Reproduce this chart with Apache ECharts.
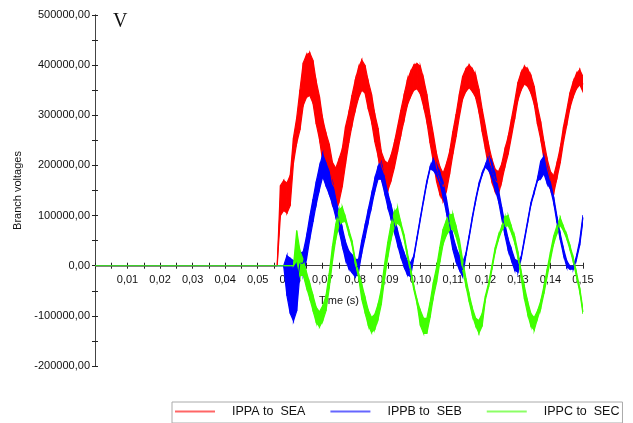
<!DOCTYPE html>
<html><head><meta charset="utf-8">
<script src="https://cdn.jsdelivr.net/npm/echarts@6/dist/echarts.min.js"></script>
<style>html,body{margin:0;padding:0;background:#fff}#c{width:633px;height:423px}</style>
</head><body><div id="c"></div>
<script>
// time in milliseconds
const timeMs = [0,56,57,58,59,60,61,62,63,64,65,66,67,68,69,70,71,72,73,74,75,76,77,78,79,80,81,82,83,84,85,86,87,88,89,90,91,92,93,94,95,96,97,98,99,100,101,102,103,104,105,106,107,108,109,110,111,112,113,114,115,116,117,118,119,120,121,122,123,124,125,126,127,128,129,130,131,132,133,134,135,136,137,138,139,140,141,142,143,144,145,146,147,148,149,150];
// centre of each trace (kV) and thickness of its ripple band (kV)
const redCenter = [0,0,130,140,135,150,230,270,311,362,378,382,367,325,295,250,222,200,163,152,170,195,240,275,310,340,365,380,372,340,315,275,247,200,182,177,195,220,252,285,315,345,362,375,378,370,345,315,272,235,195,170,157,175,205,245,280,320,355,370,378,370,358,330,290,255,218,190,170,165,185,215,240,275,310,348,368,380,375,362,340,300,270,230,195,170,162,190,220,262,295,330,352,368,376,362];
const redBand = [0,0,60,60,60,60,50,50,80,85,85,85,85,85,85,85,85,85,85,85,85,75,75,60,60,60,60,60,55,55,55,55,55,55,55,55,50,50,50,50,50,50,50,50,50,55,55,55,55,55,55,55,55,55,45,45,45,45,45,45,45,45,45,45,45,45,45,45,45,45,35,35,35,35,35,35,35,35,35,35,35,35,35,35,35,35,35,30,30,30,30,30,30,30,30,30];
const blueCenter = [0,0,0,0,-20,-40,-50,-40,5,5,35,75,110,145,175,200,182,165,145,115,88,58,30,12,4,-5,0,38,68,100,130,161,185,190,160,131,107,82,56,32,12,-4,-8,18,56,94,131,167,195,201,191,175,151,121,82,46,22,6,-8,22,58,96,131,161,183,199,205,191,167,141,106,72,42,22,2,-2,16,52,88,124,147,171,191,201,181,159,131,92,58,28,4,-4,-4,16,46,96];
const blueBand = [0,0,0,0,80,110,120,100,40,45,45,45,45,45,45,45,45,45,45,35,35,35,35,35,35,35,25,25,25,25,25,25,25,35,28,28,28,28,28,28,28,28,28,4,4,4,4,4,4,22,22,22,28,28,28,28,28,28,28,4,4,4,4,4,4,4,30,30,30,22,22,22,22,22,22,22,4,4,4,4,4,4,35,35,35,12,12,12,12,12,12,6,6,6,10,10];
const greenCenter = [0,0,0,0,0,0,0,40,5,-4,-28,-50,-74,-98,-107,-95,-75,-30,24,68,96,102,92,68,46,8,-18,-52,-78,-104,-118,-112,-92,-62,-12,32,68,92,100,82,58,22,-8,-44,-72,-104,-120,-120,-88,-48,-18,22,58,76,86,88,68,42,2,-32,-64,-92,-112,-122,-108,-64,-38,-4,32,56,74,88,90,72,52,22,-18,-54,-84,-108,-116,-98,-78,-48,-14,20,52,72,88,74,58,36,12,-18,-48,-92];
const greenBand = [0,0,0,0,0,0,0,60,50,30,30,30,30,30,30,30,30,30,30,30,30,30,8,8,8,8,8,30,30,30,30,30,30,30,30,30,30,30,30,8,8,8,8,8,8,30,30,30,30,30,30,30,30,30,30,30,20,20,20,15,15,15,15,25,25,8,8,8,8,8,8,20,20,12,12,12,12,25,25,25,25,15,15,15,15,15,15,15,15,8,8,8,8,8,8,8];
const seriesNames = ['IPPA to  SEA', 'IPPB to  SEB', 'IPPC to  SEC'];
const seriesColors = ['#ff0000', '#0000ff', '#40ff00'];
const yTicks = [-200000, 500000, 100000];
const xTicks = [0, 0.15, 0.01];

const FONT = 'Liberation Sans, Arial, sans-serif';
const GRID = { left: 95, right: 50, top: 15, bottom: 57 };
// pixel distance from the bottom of the plot to the value 0 (x axis sits on zero)
const zeroLift = (423 - GRID.top - GRID.bottom) * (0 - yTicks[0]) / (yTicks[1] - yTicks[0]);
function fmt(v, d) { return v.toFixed(d).replace('.', ','); }

function linePoints(center) {
  return timeMs.map((t, i) => [t / 1000, center[i] * 1000]);
}
function bandItems(center, band) {
  const items = [];
  for (let i = 0; i < timeMs.length - 1; i++) {
    items.push([
      timeMs[i] / 1000, (center[i] - band[i] / 2) * 1000, (center[i] + band[i] / 2) * 1000,
      timeMs[i + 1] / 1000, (center[i + 1] - band[i + 1] / 2) * 1000, (center[i + 1] + band[i + 1] / 2) * 1000
    ]);
  }
  return items;
}
function bandSeries(name, color, center, band) {
  return {
    type: 'custom', name: name + ' band', silent: true, clip: true,
    encode: { x: [0, 3], y: [1, 2, 4, 5] },
    data: bandItems(center, band),
    renderItem: function (params, api) {
      const a = api.coord([api.value(0), api.value(2)]);
      const b = api.coord([api.value(3), api.value(5)]);
      const c = api.coord([api.value(3), api.value(4)]);
      const d = api.coord([api.value(0), api.value(1)]);
      return { type: 'polygon', shape: { points: [a, b, c, d] },
        style: { fill: color, stroke: color, lineWidth: 1.2 } };
    }
  };
}
function lineSeries(name, color, center) {
  return { type: 'line', name: name, symbol: 'none', showSymbol: false,
    data: linePoints(center), lineStyle: { color: color, width: 1 }, itemStyle: { color: color } };
}

const tickStyle = { color: '#222', width: 1 };
const xBase = {
  type: 'value', min: xTicks[0], max: xTicks[1], interval: xTicks[2], position: 'bottom',
  offset: -zeroLift, splitLine: { show: false },
  axisLine: { show: true, onZero: false, lineStyle: { color: '#444', width: 1 } }
};
const yBase = {
  type: 'value', min: yTicks[0], max: yTicks[1], interval: yTicks[2], position: 'left',
  axisLine: { show: true, onZero: false, lineStyle: { color: '#444', width: 1 } },
  splitLine: { show: false }
};

const option = {
  animation: false,
  backgroundColor: '#ffffff',
  grid: Object.assign({ containLabel: false }, GRID),
  xAxis: [
    Object.assign({}, xBase, {
      axisTick: { show: true, length: 3, inside: false, lineStyle: tickStyle },
      minorTick: { show: true, splitNumber: 2, length: 3, lineStyle: tickStyle },
      axisLabel: { fontFamily: FONT, fontSize: 11, color: '#111', margin: 9,
        formatter: v => (Math.abs(v) < 1e-9 ? '' : fmt(v, 2)) },
      name: 'Time (s)', nameLocation: 'middle', nameGap: 30,
      nameTextStyle: { fontFamily: FONT, fontSize: 11, color: '#111' }
    }),
    Object.assign({}, xBase, {
      axisTick: { show: true, length: 3, inside: true, lineStyle: tickStyle },
      minorTick: { show: true, splitNumber: 2, length: 3, lineStyle: tickStyle },
      axisLabel: { show: false }
    })
  ],
  yAxis: [
    Object.assign({}, yBase, {
      axisTick: { show: true, length: 3, inside: false, lineStyle: tickStyle },
      minorTick: { show: true, splitNumber: 2, length: 3, lineStyle: tickStyle },
      axisLabel: { fontFamily: FONT, fontSize: 11, color: '#111', margin: 5,
        formatter: v => fmt(v, 2) },
      name: 'Branch voltages', nameLocation: 'middle', nameGap: 63,
      nameTextStyle: { fontFamily: FONT, fontSize: 11, color: '#111' }
    }),
    Object.assign({}, yBase, {
      axisTick: { show: true, length: 3, inside: true, lineStyle: tickStyle },
      minorTick: { show: true, splitNumber: 2, length: 3, lineStyle: tickStyle },
      axisLabel: { show: false }
    })
  ],
  legend: {
    left: 172, top: 402, orient: 'horizontal',
    padding: [3, 3, 5, 3], itemGap: 25, itemWidth: 40, itemHeight: 2,
    icon: 'path://M0,0H40V2H0Z',
    borderColor: '#aaa', borderWidth: 1,
    itemStyle: { opacity: 0.6 },
    textStyle: { fontFamily: FONT, fontSize: 12.5, color: '#111', padding: [0, 0, 0, 12] },
    data: [
      { name: seriesNames[0] },
      { name: seriesNames[1] },
      { name: seriesNames[2], textStyle: { width: 77, overflow: 'truncate', ellipsis: '' } }
    ]
  },
  graphic: [
    { type: 'text', left: 113, top: 12, style: { text: 'V', font: '20px "Liberation Serif", "DejaVu Serif", serif', fill: '#111' } }
  ],
  series: [
    lineSeries(seriesNames[0], seriesColors[0], redCenter),
    bandSeries(seriesNames[0], seriesColors[0], redCenter, redBand),
    lineSeries(seriesNames[1], seriesColors[1], blueCenter),
    bandSeries(seriesNames[1], seriesColors[1], blueCenter, blueBand),
    lineSeries(seriesNames[2], seriesColors[2], greenCenter),
    bandSeries(seriesNames[2], seriesColors[2], greenCenter, greenBand)
  ]
};
const chart = echarts.init(document.getElementById('c'), null, { renderer: 'canvas' });
chart.setOption(option);
</script>
</body></html>
